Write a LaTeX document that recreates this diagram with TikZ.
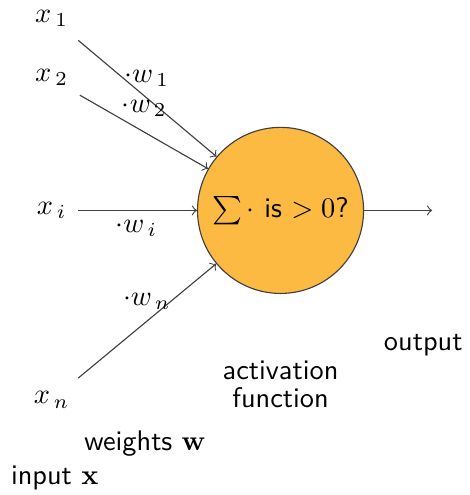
\documentclass[tikz,border=0pt]{standalone}
\usepackage{amsmath}
\definecolor{neuronfill}{RGB}{252,186,66}
\begin{document}
\begin{tikzpicture}[font=\sffamily,
    link/.style={->, draw=black!75, thin},
    wlabel/.style={inner sep=1pt}]
  \useasboundingbox (0,0) rectangle (5.82,6.14);
  % neuron
  \node[circle, draw=black!75, fill=neuronfill, minimum size=2.06cm, inner sep=0pt] (neuron) at (3.48,3.53) {$\sum\cdot$ is $>0$?};
  % inputs
  \node (x1) at (0.64,5.91) {$x_{\,1}$};
  \node (x2) at (0.64,5.18) {$x_{\,2}$};
  \node (xi) at (0.64,3.53) {$x_{\,i}$};
  \node (xn) at (0.64,1.18) {$x_{\,n}$};
  \coordinate (s1) at (0.97,5.64);
  \coordinate (s2) at (0.99,4.96);
  \coordinate (si) at (0.97,3.53);
  \coordinate (sn) at (0.97,1.45);
  \foreach \src in {s1,s2,si,sn}
    \draw[link] (\src) -- (neuron);
  % weights
  \node[wlabel] (w1) at (1.82,5.17) {$\cdot w_{\,1}$};
  \node[wlabel] (w2) at (1.79,4.80) {$\cdot w_{\,2}$};
  \node[wlabel] (wi) at (1.69,3.31) {$\cdot w_{\,i}$};
  \node[wlabel] (wn) at (1.82,2.40) {$\cdot w_{\,n}$};
  % output
  \coordinate (out) at (5.36,3.53);
  \draw[link] (neuron) -- (out);
  % captions
  \node (outlabel) at (5.25,1.86) {output};
  \node[align=center] (actlabel) at (3.48,1.37) {activation\\[-2pt]function};
  \node (wlab) at (1.80,0.64) {weights $\mathbf{w}$};
  \node (inlab) at (0.68,0.21) {input $\mathbf{x}$};
\end{tikzpicture}
\end{document}
